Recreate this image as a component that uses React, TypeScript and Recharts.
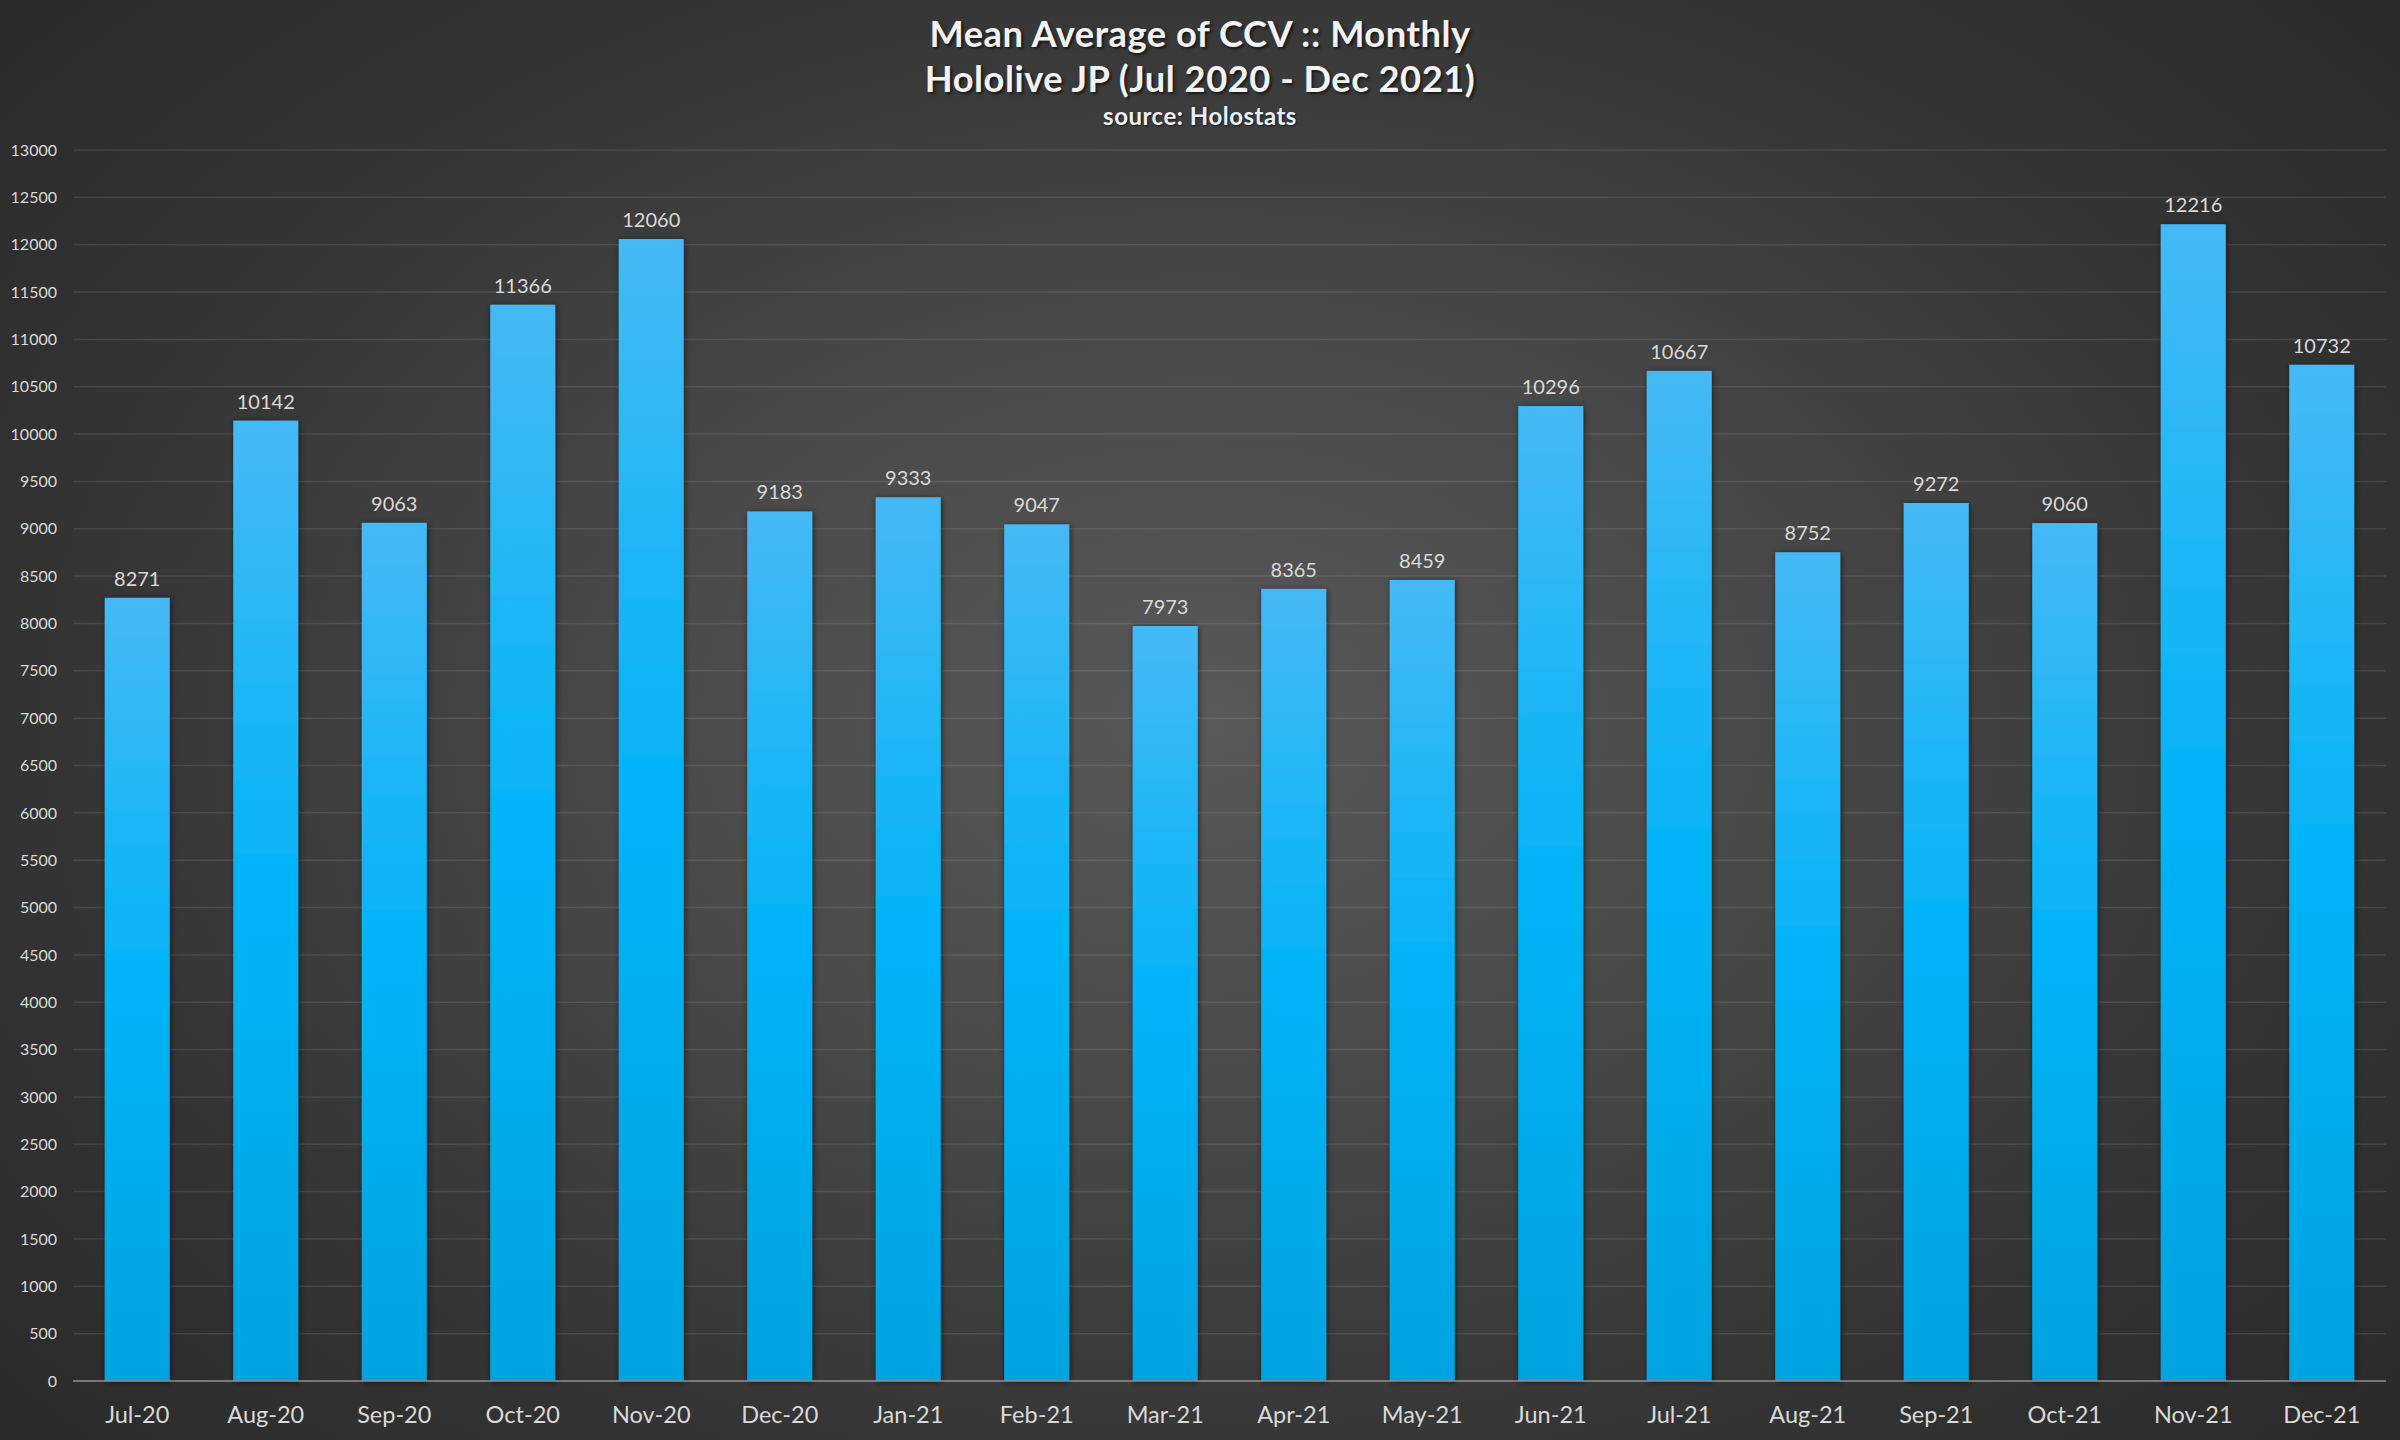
import React from 'react';
import { BarChart, Bar, XAxis, YAxis, CartesianGrid, LabelList } from 'recharts';

const months = ['Jul-20', 'Aug-20', 'Sep-20', 'Oct-20', 'Nov-20', 'Dec-20', 'Jan-21', 'Feb-21', 'Mar-21', 'Apr-21', 'May-21', 'Jun-21', 'Jul-21', 'Aug-21', 'Sep-21', 'Oct-21', 'Nov-21', 'Dec-21'];
const ccv = [8271, 10142, 9063, 11366, 12060, 9183, 9333, 9047, 7973, 8365, 8459, 10296, 10667, 8752, 9272, 9060, 12216, 10732];
const yTicks = [0, 500, 1000, 1500, 2000, 2500, 3000, 3500, 4000, 4500, 5000, 5500, 6000, 6500, 7000, 7500, 8000, 8500, 9000, 9500, 10000, 10500, 11000, 11500, 12000, 12500, 13000];

const data = months.map((m, i) => ({ month: m, value: ccv[i] }));

const FONT = 'Lato, "Open Sans", sans-serif';

const ShadowBar = (props: any) => {
  const { x, y, width, height } = props;
  if (height <= 0) return null;
  return <rect x={x} y={y} width={width} height={height} fill="url(#barGrad)" filter="url(#barShadow)" />;
};

export default function App() {
  return (
    <div
      style={{
        position: 'absolute',
        left: 0,
        top: 0,
        width: 2400,
        height: 1440,
        background: 'radial-gradient(ellipse 75% 85% at 50% 50%, #595959 0%, #4a4a4a 30%, #333333 65%, #262626 100%)',
        fontFamily: FONT,
        overflow: 'hidden',
      }}
    >
      <div style={{ position: 'absolute', left: 0, top: 11, width: 2400, textAlign: 'center', color: '#f2f2f2', fontWeight: 700, fontSize: 36.3, lineHeight: '45px', letterSpacing: 0.5, textShadow: '2px 2px 3px rgba(0,0,0,0.6)' }}>
        Mean Average of CCV :: Monthly
        <br />
        Hololive JP (Jul 2020 - Dec 2021)
      </div>
      <div style={{ position: 'absolute', left: 0, top: 101, width: 2400, textAlign: 'center', color: '#f2f2f2', fontWeight: 700, fontSize: 24, letterSpacing: 0.5, textShadow: '1px 1px 2px rgba(0,0,0,0.6)' }}>
        source: <span style={{ color: '#e6f2fb' }}>Holostats</span>
      </div>
      <div style={{ position: 'absolute', left: 0, top: 0 }}>
        <BarChart width={2400} height={1440} data={data} margin={{ top: 150, right: 14, bottom: 0, left: 0 }} barCategoryGap="24.7%">
          <defs>
            <linearGradient id="barGrad" x1="0" y1="0" x2="0" y2="1">
              <stop offset="0%" stopColor="#45b9f5" />
              <stop offset="50%" stopColor="#00b4f7" />
              <stop offset="100%" stopColor="#00a3e0" />
            </linearGradient>
            <filter id="barShadow" x="-30%" y="-10%" width="160%" height="120%">
              <feDropShadow dx="1" dy="1" stdDeviation="3" floodColor="#000000" floodOpacity="0.55" />
            </filter>
          </defs>
          <CartesianGrid vertical={false} stroke="rgba(255,255,255,0.1)" strokeWidth={1.5} />
          <XAxis
            dataKey="month"
            height={59}
            tickLine={false}
            tickSize={0}
            tickMargin={25}
            axisLine={{ stroke: '#8c8c8c', strokeWidth: 1.5 }}
            tick={{ fill: '#d9d9d9', fontSize: 23.5, fontFamily: FONT }}
            interval={0}
          />
          <YAxis
            width={73}
            domain={[0, 13000]}
            ticks={yTicks}
            interval={0}
            tickLine={false}
            tickSize={0}
            tickMargin={16}
            axisLine={false}
            tick={{ fill: '#d9d9d9', fontSize: 16, fontFamily: FONT }}
          />
          <Bar dataKey="value" isAnimationActive={false} shape={<ShadowBar />}>
            <LabelList dataKey="value" position="top" offset={12} fill="#d9d9d9" fontSize={20} fontFamily={FONT} />
          </Bar>
        </BarChart>
      </div>
    </div>
  );
}
